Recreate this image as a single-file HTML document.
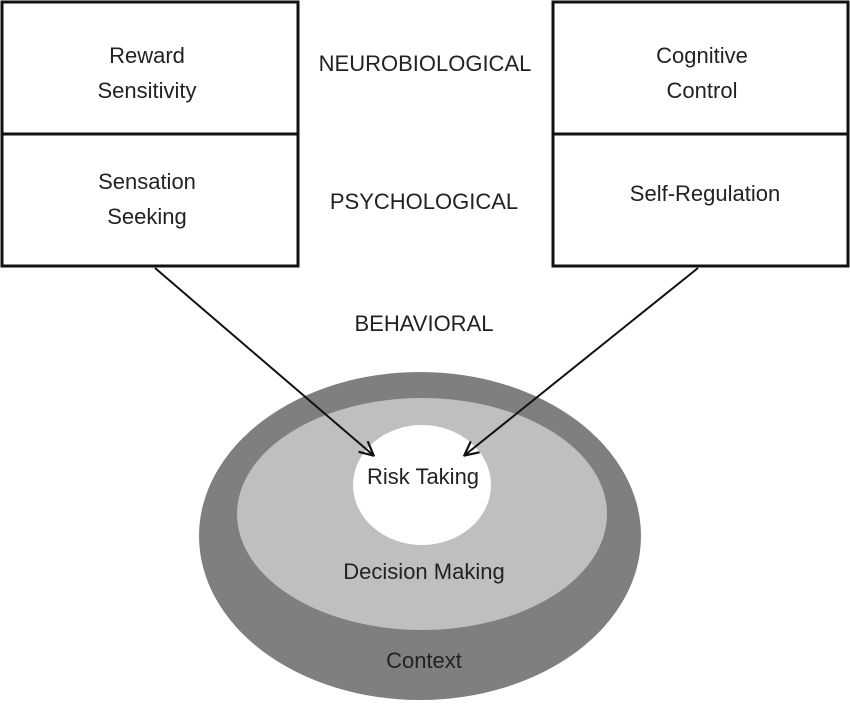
<!DOCTYPE html>
<html><head><meta charset="utf-8"><style>
html,body{margin:0;padding:0;background:#fff;}
svg text{font-family:"Liberation Sans",sans-serif;font-size:22px;fill:#222;text-anchor:middle;}
</style></head><body>
<svg width="850" height="701" viewBox="0 0 850 701" xmlns="http://www.w3.org/2000/svg">
<defs><marker id="a" markerWidth="10" markerHeight="10" refX="9" refY="5" orient="auto" markerUnits="userSpaceOnUse" viewBox="0 0 10 10"><path d="M0,0 L10,5 L0,10" fill="none" stroke="#111" stroke-width="2"/></marker>
<marker id="b" markerWidth="16" markerHeight="16" refX="14" refY="8" orient="auto" markerUnits="userSpaceOnUse" viewBox="0 0 16 16"><path d="M1,1 L15,8 L1,15" fill="none" stroke="#111" stroke-width="2.2"/></marker></defs>
<ellipse cx="420" cy="536" rx="221" ry="164" fill="#7f7f7f"/>
<ellipse cx="422" cy="514" rx="185" ry="116" fill="#bfbfbf"/>
<ellipse cx="422" cy="485" rx="69" ry="60" fill="#fff"/>
<rect x="2" y="2" width="296" height="264" fill="none" stroke="#111" stroke-width="3"/>
<line x1="2" y1="134" x2="298" y2="134" stroke="#111" stroke-width="3"/>
<rect x="553" y="2" width="295" height="264" fill="none" stroke="#111" stroke-width="3"/>
<line x1="553" y1="134" x2="848" y2="134" stroke="#111" stroke-width="3"/>
<line x1="155" y1="268" x2="373" y2="455" stroke="#111" stroke-width="2" marker-end="url(#b)"/>
<line x1="698" y1="268" x2="465" y2="455" stroke="#111" stroke-width="2" marker-end="url(#b)"/>
<text x="147" y="63">Reward</text>
<text x="147" y="98">Sensitivity</text>
<text x="147" y="189">Sensation</text>
<text x="147" y="224">Seeking</text>
<text x="702" y="63">Cognitive</text>
<text x="702" y="98">Control</text>
<text x="705" y="201">Self-Regulation</text>
<text x="425" y="71">NEUROBIOLOGICAL</text>
<text x="424" y="209">PSYCHOLOGICAL</text>
<text x="424" y="331">BEHAVIORAL</text>
<text x="423" y="484">Risk Taking</text>
<text x="424" y="579">Decision Making</text>
<text x="424" y="668">Context</text>
</svg>
</body></html>
